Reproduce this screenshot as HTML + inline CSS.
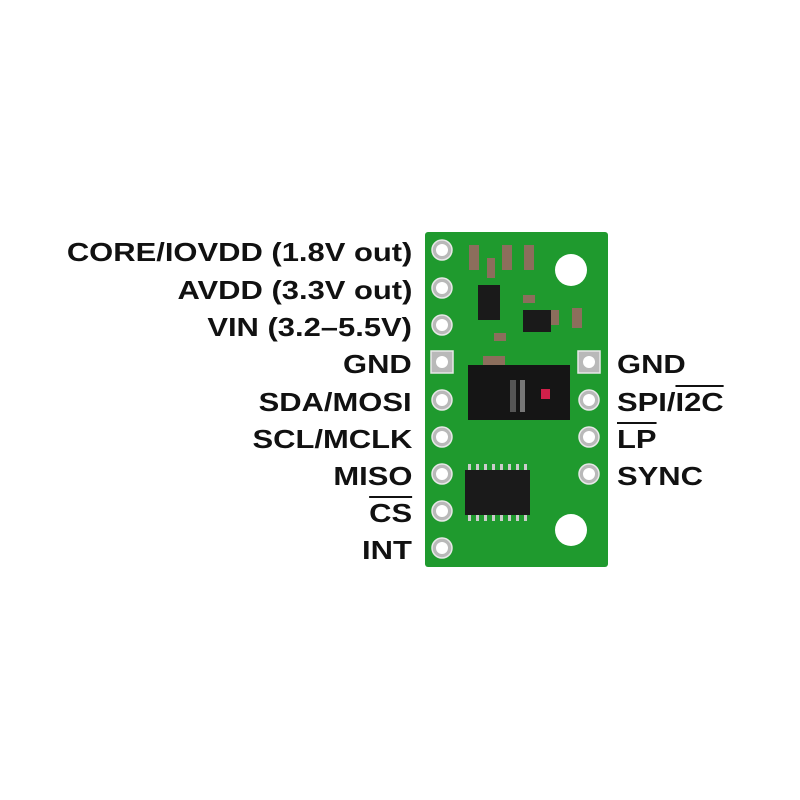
<!DOCTYPE html><html><head><style>
body{margin:0;width:800px;height:800px;background:#fff;position:relative;overflow:hidden;font-family:"Liberation Sans",sans-serif}
.l{position:absolute;right:388px;font-weight:bold;font-size:26px;color:#111;line-height:1;white-space:nowrap;transform:scaleX(1.19);transform-origin:right center}
.r{position:absolute;left:617px;font-weight:bold;font-size:26px;color:#111;line-height:1;white-space:nowrap;transform:scaleX(1.19);transform-origin:left center}
.o{text-decoration:overline}
</style></head><body>
<div class="l" style="top:239px">CORE/IOVDD (1.8V out)</div>
<div class="l" style="top:277px">AVDD (3.3V out)</div>
<div class="l" style="top:314px">VIN (3.2–5.5V)</div>
<div class="l" style="top:351px">GND</div>
<div class="l" style="top:389px">SDA/MOSI</div>
<div class="l" style="top:426px">SCL/MCLK</div>
<div class="l" style="top:463px">MISO</div>
<div class="l" style="top:500px"><span class="o">CS</span></div>
<div class="l" style="top:537px">INT</div>
<div class="r" style="top:351px">GND</div>
<div class="r" style="top:389px">SPI/<span class="o">I2C</span></div>
<div class="r" style="top:426px"><span class="o">LP</span></div>
<div class="r" style="top:463px">SYNC</div>
<svg style="position:absolute;left:0;top:0" width="800" height="800">
<rect x="425" y="232" width="183" height="335" rx="3" fill="#1f9a2e"/>
<g fill="#b9b9b9" stroke="#e8e8e8" stroke-width="1.5">
<circle cx="442" cy="250" r="10"/><circle cx="442" cy="288" r="10"/><circle cx="442" cy="325" r="10"/>
<rect x="431" y="351" width="22" height="22"/>
<circle cx="442" cy="400" r="10"/><circle cx="442" cy="437" r="10"/><circle cx="442" cy="474" r="10"/><circle cx="442" cy="511" r="10"/><circle cx="442" cy="548" r="10"/>
<rect x="578" y="351" width="22" height="22"/>
<circle cx="589" cy="400" r="10"/><circle cx="589" cy="437" r="10"/><circle cx="589" cy="474" r="10"/>
</g>
<g fill="#fff"><circle cx="442" cy="250" r="6"/><circle cx="442" cy="288" r="6"/><circle cx="442" cy="325" r="6"/><circle cx="442" cy="362" r="6"/><circle cx="442" cy="400" r="6"/><circle cx="442" cy="437" r="6"/><circle cx="442" cy="474" r="6"/><circle cx="442" cy="511" r="6"/><circle cx="442" cy="548" r="6"/><circle cx="589" cy="362" r="6"/><circle cx="589" cy="400" r="6"/><circle cx="589" cy="437" r="6"/><circle cx="589" cy="474" r="6"/>
<circle cx="571" cy="270" r="16"/><circle cx="571" cy="530" r="16"/></g>
<g fill="#8c6e5c"><rect x="469" y="245" width="10" height="25"/><rect x="502" y="245" width="10" height="25"/><rect x="524" y="245" width="10" height="25"/><rect x="487" y="258" width="8" height="20"/><rect x="523" y="295" width="12" height="8"/><rect x="494" y="333" width="12" height="8"/><rect x="483" y="356" width="22" height="10"/><rect x="572" y="308" width="10" height="20"/><rect x="551" y="310" width="8" height="15"/></g>
<rect x="478" y="285" width="22" height="35" fill="#1a1a1a"/>
<rect x="523" y="310" width="28" height="22" fill="#1a1a1a"/>
<rect x="468" y="365" width="102" height="55" fill="#151515"/>
<rect x="510" y="380" width="6" height="32" fill="#555"/><rect x="520" y="380" width="5" height="32" fill="#777"/>
<rect x="541" y="389" width="9" height="10" fill="#d0204a"/>
<rect x="465" y="470" width="65" height="45" fill="#1a1a1a"/>
<g fill="#ccc"><rect x="468" y="464" width="3" height="6"/><rect x="476" y="464" width="3" height="6"/><rect x="484" y="464" width="3" height="6"/><rect x="492" y="464" width="3" height="6"/><rect x="500" y="464" width="3" height="6"/><rect x="508" y="464" width="3" height="6"/><rect x="516" y="464" width="3" height="6"/><rect x="524" y="464" width="3" height="6"/>
<rect x="468" y="515" width="3" height="6"/><rect x="476" y="515" width="3" height="6"/><rect x="484" y="515" width="3" height="6"/><rect x="492" y="515" width="3" height="6"/><rect x="500" y="515" width="3" height="6"/><rect x="508" y="515" width="3" height="6"/><rect x="516" y="515" width="3" height="6"/><rect x="524" y="515" width="3" height="6"/></g>
</svg>
</body></html>
